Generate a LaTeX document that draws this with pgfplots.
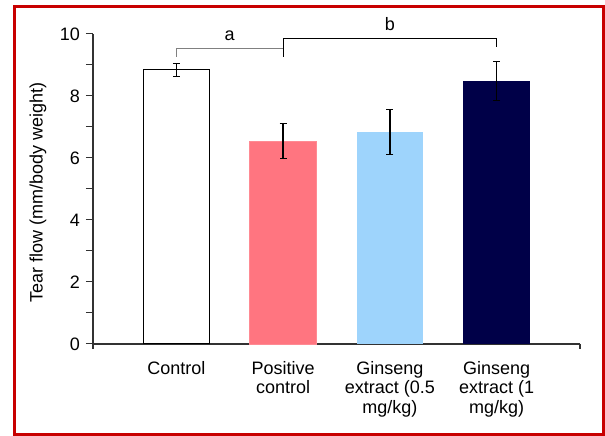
\documentclass[border=0pt]{standalone}
\usepackage{pgfplots}
\pgfplotsset{compat=1.18}
\usepackage{fontspec}
\setmainfont{Liberation Sans}
\definecolor{framered}{RGB}{200,0,0}
\definecolor{pinkbar}{RGB}{255,117,128}
\definecolor{bluebar}{RGB}{158,212,252}
\definecolor{navybar}{RGB}{0,0,72}
\definecolor{axisgray}{RGB}{50,50,50}
\begin{document}
\fontsize{18}{20}\selectfont
\begin{tikzpicture}[x=1pt,y=1pt]
\useasboundingbox (0,0) rectangle (605,436);
\fill[white] (0,0) rectangle (605,436);
\draw[framered, line width=3pt] (14.7,1.5) rectangle (603.3,429.5);
\begin{axis}[
  at={(93pt,92pt)}, anchor=south west,
  width=487pt, height=310pt, scale only axis,
  xmin=-0.78, xmax=3.78, ymin=0, ymax=10,
  axis x line*=bottom, axis y line*=left,
  ytick={0,2,...,10}, minor ytick={1,3,...,9},
  tick align=outside,
  major tick length=7pt, minor tick length=7pt,
  xtick={0,1,2,3},
  xticklabels={Control, Positive\\control, Ginseng\\extract (0.5\\mg/kg), Ginseng\\extract (1\\mg/kg)},
  x tick style={draw=none},
  xticklabel style={align=center, font=\fontsize{18}{19.5}\selectfont, yshift=-4pt},
  yticklabel style={font=\fontsize{18}{20}\selectfont},
  /pgf/number format/assume math mode=true,
  ylabel={Tear flow (mm/body weight)},
  ylabel style={at={(axis description cs:-0.113,0.49)}, anchor=center, rotate=0, font=\fontsize{18}{20}\selectfont},
  axis line style={line width=1.2pt, color=axisgray},
  tick style={line width=1pt, color=axisgray},
  clip=false,
  ybar, bar width=66.5pt,
  error bars/error mark=|,
  error bars/error mark options={black, mark size=3.5pt, line width=1pt},
  error bars/error bar style={black, line width=1.3pt},
]
\addplot[bar shift=0pt, draw=black, fill=white, line width=1pt,
  error bars/.cd, y dir=both, y explicit]
  coordinates {(0,8.84) +- (0,0.20)};
\addplot[bar shift=0pt, draw=pinkbar!85!white, fill=pinkbar, line width=0.8pt,
  error bars/.cd, y dir=both, y explicit]
  coordinates {(1,6.54) +- (0,0.56)};
\addplot[bar shift=0pt, draw=none, fill=bluebar,
  error bars/.cd, y dir=both, y explicit]
  coordinates {(2,6.84) +- (0,0.74)};
\addplot[bar shift=0pt, draw=none, fill=navybar,
  error bars/.cd, y dir=both, y explicit]
  coordinates {(3,8.48) +- (0,0.62)};
\draw[line width=1.2pt, axisgray] (rel axis cs:0,0) -- ([yshift=-5pt]rel axis cs:0,0);
\draw[line width=1.2pt, axisgray] (rel axis cs:1,0) -- ([yshift=-5pt]rel axis cs:1,0);
\draw[gray, line width=1pt] (axis cs:0,9.27) -- (axis cs:0,9.52) -- (axis cs:1,9.52) -- (axis cs:1,9.27);
\node at (axis cs:0.5,9.94) {a};
\draw[black, line width=1pt] (axis cs:1,9.27) -- (axis cs:1,9.84) -- (axis cs:3,9.84) -- (axis cs:3,9.59);
\node at (axis cs:2,10.32) {b};
\end{axis}
\end{tikzpicture}
\end{document}
